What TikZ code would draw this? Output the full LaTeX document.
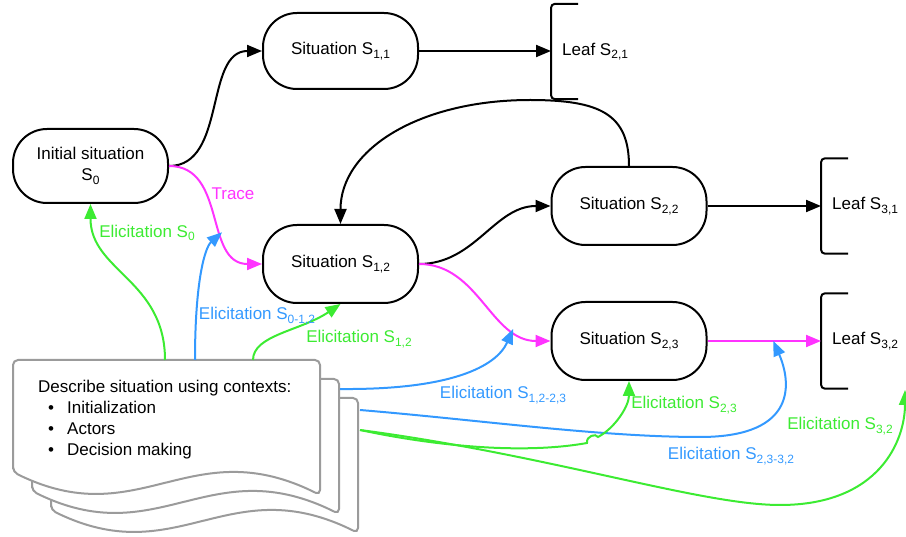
\documentclass[tikz,border=0pt]{standalone}
\usepackage{fontspec}
\setmainfont{Liberation Sans}
\usetikzlibrary{arrows.meta}
\definecolor{elgreen}{RGB}{60,235,50}
\definecolor{elblue}{RGB}{51,153,255}
\definecolor{trmag}{RGB}{255,51,255}
\definecolor{docgray}{RGB}{155,155,155}
% lowered, smaller index in the text font
\newcommand\subs[1]{\raisebox{-3.5pt}{\fontsize{12}{12}\selectfont#1}}

\begin{document}
\begin{tikzpicture}[x=1pt,y=-1pt,
  every node/.style={font=\fontsize{17}{21}\selectfont, inner sep=0pt},
  situation/.style={draw, line width=2pt, rounded corners=34pt,
    minimum width=155pt, minimum height=78pt, align=center},
  leafnode/.style={minimum height=95pt, anchor=west, inner xsep=11pt, align=left},
  bracket/.style={line width=2pt, rounded corners=4pt},
  conn/.style={line width=2pt, -{Triangle[length=15pt,width=12pt]}},
  flow/.style={conn, black},
  trace/.style={conn, trmag},
  elig/.style={conn, elgreen},
  elib/.style={conn, elblue},
  page/.style={draw=docgray, line width=2pt, fill=white, rounded corners=5pt},
  lbl/.style={anchor=center}
]
\useasboundingbox (0,0) rectangle (906,537);

% ---- situations and leaves ----
\node[situation, minimum height=74pt] (init) at (90.5,166) {Initial situation\\S\subs{0}};
\node[situation, minimum height=76pt] (s11) at (340.5,51) {Situation S\subs{1,1}};
\node[situation] (s12) at (340.5,264) {Situation S\subs{1,2}};
\node[situation] (s22) at (629,206) {Situation S\subs{2,2}};
\node[situation] (s23) at (629,341) {Situation S\subs{2,3}};

\node[leafnode] (l21) at (551,51.5) {Leaf S\subs{2,1}};
\node[leafnode] (l31) at (821,206) {Leaf S\subs{3,1}};
\node[leafnode] (l32) at (821,341) {Leaf S\subs{3,2}};
\foreach \l in {l21,l31,l32}
  \draw[bracket] ([xshift=27pt]\l.north west) -| (\l.south west) -- ++(27,0);

% ---- stacked document ----
\foreach \d in {38,19,0}
  \draw[page, shift={(\d,\d)}] (13,472) -- (13,360) -- (320,360) -- (320,495)
    .. controls (190,430) and (140,535) .. (13,472) -- cycle;
\node[anchor=base west] (dtitle) at (38,393) {Describe situation using contexts:};
\node[anchor=base west] (bul1) at (48,414) {\textbullet};
\node[anchor=base west] (bul2) at (48,435) {\textbullet};
\node[anchor=base west] (bul3) at (48,456) {\textbullet};
\node[anchor=base west] (item1) at (67,414) {Initialization};
\node[anchor=base west] (item2) at (67,435) {Actors};
\node[anchor=base west] (item3) at (67,456) {Decision making};

\coordinate (dA) at (165,360);
\coordinate (dB) at (195,360);
\coordinate (dC) at (253,360);
\coordinate (dD) at (340,389);
\coordinate (dE) at (360,410);
\coordinate (dF) at (360,430);

% ---- black flow ----
\draw[flow] (init.east) to[out=0,in=180] (s11.west);
\draw[flow] (s11.east) -- (s11.east -| l21.west);
\coordinate (looptop) at (530,100);
\draw[flow] (s22.north) .. controls +(0,-52) and +(70,0) .. (looptop)
  .. controls +(-110,0) and +(0,-75) .. (s12.north);
\draw[flow] (s12.east) to[out=0,in=180] (s22.west);
\draw[flow] (s22.east) -- (s22.east -| l31.west);

% ---- trace ----
\draw[trace] (init.east) to[out=0,in=180,looseness=1.1] coordinate[pos=0.62] (trmid) (s12.west);
\draw[trace] (s12.east) to[out=0,in=180] coordinate[pos=0.75] (m23) (s23.west);
\draw[trace] (s23.east) -- coordinate[pos=0.58] (m32) (s23.east -| l32.west);
\node[lbl, text=trmag] (ltrace) at (233,194) {Trace};

% ---- elicitations ----
\draw[elig] (dA) .. controls +(0,-80) and +(0,67) .. (init.south);
\draw[elib] (dB) .. controls +(0,-80) and +(-17,15) .. (trmid);
\draw[elig] (dC) .. controls +(0,-25) and +(-40,27) .. (s12.south);
\draw[elib] (dD) .. controls +(110,1) and +(-17,38) .. (m23);
\coordinate (bluelow) at (700,437);
\draw[elib] (dE) .. controls +(120,10) and +(-100,0) .. (bluelow)
  .. controls +(100,0) and +(17,39) .. (m32);
\coordinate (hopA) at (587,443);
\coordinate (hopB) at (598,437);
\draw[elig] (dF) .. controls +(70,15) and +(-67,12) .. (hopA)
  .. controls +(-1,-7) and +(-2,-4) .. (hopB)
  .. controls +(17,-9) and +(0,25) .. (s23.south);
\coordinate (rightend) at (905,390);
\coordinate (greenlow) at (780,505);
\draw[elig] (dF) .. controls +(190,25) and +(-80,0) .. (greenlow)
  .. controls +(100,0) and +(0,50) .. (rightend);

\node[lbl, text=elgreen] (lS0) at (147,233) {Elicitation S\subs{0}};
\node[lbl, text=elblue] (lS012) at (257,316) {Elicitation S\subs{0-1,2}};
\node[lbl, text=elgreen] (lS12) at (359,339) {Elicitation S\subs{1,2}};
\node[lbl, text=elblue] (lS1223) at (503,395) {Elicitation S\subs{1,2-2,3}};
\node[lbl, text=elgreen] (lS23) at (684,405) {Elicitation S\subs{2,3}};
\node[lbl, text=elblue] (lS2332) at (731,456) {Elicitation S\subs{2,3-3,2}};
\node[lbl, text=elgreen] (lS32) at (840,426) {Elicitation S\subs{3,2}};
\end{tikzpicture}
\end{document}
